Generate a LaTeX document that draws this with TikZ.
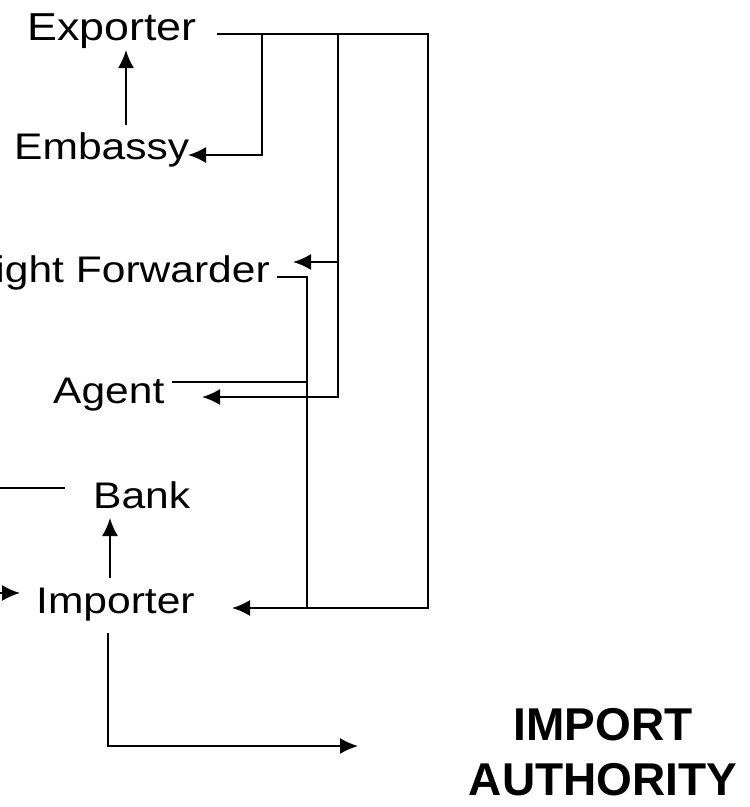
\documentclass[tikz,border=0pt]{standalone}
\usepackage{fontspec}
\usetikzlibrary{arrows.meta}
\newfontfamily\plainfont[FakeStretch=1.15]{Liberation Sans}
\newfontfamily\headfont{Liberation Sans}
\tikzset{
  party/.style={anchor=base west,inner sep=0pt,font=\plainfont\fontsize{37}{40}\selectfont},
  wire/.style={line width=2pt},
  flow/.style={wire,-{Latex[length=18pt,width=16pt]}},
}
\begin{document}
\begin{tikzpicture}[x=1pt,y=-1pt]
\useasboundingbox (0,0) rectangle (750,807);
\clip (0,0) rectangle (750,807);
% parties
\node[party,font=\plainfont\fontsize{39}{42}\selectfont] (exporter) at (27,40) {Exporter};
\node[party] (embassy) at (14,159) {Embassy};
\node[party,anchor=base east] (forwarder) at (270,282) {Freight Forwarder};
\node[party] (agent) at (53,403) {Agent};
\node[party] (bank) at (93,508) {Bank};
\node[party] (importer) at (36,613) {Importer};
\node[anchor=north,inner sep=0pt,align=center,font=\headfont\bfseries\fontsize{46}{55}\selectfont] (authority) at (603,708) {IMPORT\\AUTHORITY};
% junctions
\coordinate (exout) at (217,34);
\coordinate (busE) at (262,34);
\coordinate (busF) at (338,34);
\coordinate (busI) at (428,34);
\coordinate (embin) at (188,155);
\coordinate (fwdin) at (293,262);
\coordinate (agin) at (202,397);
\coordinate (impin) at (232,608);
\coordinate (fwdout) at (277,277);
\coordinate (fwdbus) at (307,277);
\coordinate (agout) at (172,382);
\coordinate (embup) at (126,125);
\coordinate (exdown) at (126,50);
\coordinate (impup) at (110,578);
\coordinate (bankdown) at (110,518);
\coordinate (impdown) at (108,633);
\coordinate (authin) at (358,746);
\coordinate (bankwest) at (-10,488);
\coordinate (bankline) at (65,488);
\coordinate (impwest) at (-30,593);
\coordinate (impleft) at (20,593);
% connectors
\draw[flow] (exout) -- (busI) |- (impin);
\draw[flow] (busE) |- (embin);
\draw[flow] (busF) |- (agin);
\draw[flow] (busF |- fwdin) -- (fwdin);
\draw[wire] (fwdout) -- (fwdbus) -- (fwdbus |- impin);
\draw[wire] (agout) -- (agout -| fwdbus);
\draw[flow] (embup) -- (exdown);
\draw[flow] (impup) -- (bankdown);
\draw[flow] (impdown) |- (authin);
\draw[wire] (bankwest) -- (bankline);
\draw[flow] (impwest) -- (impleft);
\end{tikzpicture}
\end{document}
